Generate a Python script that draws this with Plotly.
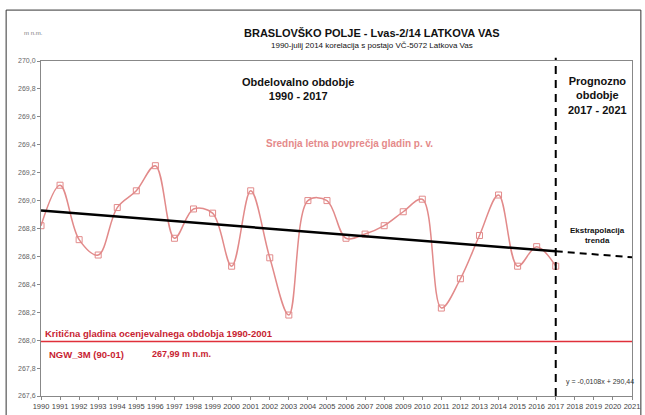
import numpy as np
import plotly.graph_objects as go

years = list(range(1990, 2018))
levels = [268.82, 269.11, 268.72, 268.61, 268.95, 269.07, 269.25, 268.73, 268.94, 268.91,
          268.53, 269.07, 268.59, 268.18, 269.00, 269.00, 268.73, 268.76, 268.82, 268.92,
          269.01, 268.23, 268.44, 268.75, 269.04, 268.53, 268.67, 268.53]
critical_level = 267.99
x_ticks = list(range(1990, 2022))
y_ticks = [267.6 + 0.2 * i for i in range(13)]
y_labels = [f"{v:.1f}".replace(".", ",") for v in y_ticks]
forecast_start = 2017
forecast_end = 2021

slope, intercept = np.polyfit(years, levels, 1)
trend_x = [1990, forecast_start]
trend_y = [slope * x + intercept for x in trend_x]
ext_x = [forecast_start, forecast_end]
ext_y = [slope * x + intercept for x in ext_x]

series_color = "#E28A8A"
red = "#E0303A"
red_text = "#C81E32"
font = "Liberation Sans, Arial, sans-serif"

fig = go.Figure()
fig.add_trace(go.Scatter(x=years, y=levels, mode="lines+markers", line_shape="spline",
                         line=dict(color=series_color, width=1.5, smoothing=1),
                         marker=dict(symbol="square-open", size=6, color=series_color, line=dict(width=1)),
                         hoverinfo="skip"))
fig.add_trace(go.Scatter(x=trend_x, y=trend_y, mode="lines",
                         line=dict(color="black", width=2.5), hoverinfo="skip"))
fig.add_trace(go.Scatter(x=ext_x, y=ext_y, mode="lines",
                         line=dict(color="black", width=2, dash="7px,5px"), hoverinfo="skip"))
fig.add_trace(go.Scatter(x=[1990, forecast_end], y=[critical_level, critical_level], mode="lines",
                         line=dict(color=red, width=1.5), hoverinfo="skip"))

fig.add_shape(type="line", xref="x", yref="paper", x0=forecast_start, x1=forecast_start, y0=0, y1=1.01,
              line=dict(color="black", width=2, dash="8px,6px"))
# outer frame
fig.add_shape(type="rect", xref="paper", yref="paper", x0=-0.059, x1=1.015, y0=-0.06, y1=1.152,
              line=dict(color="#333333", width=1))

ann = [
    dict(text="m n.m.", x=-0.032, y=1.084, xref="paper", yref="paper", yanchor="middle",
         font=dict(size=6, color="#777777")),
    dict(text="<b>BRASLOVŠKO POLJE - Lvas-2/14 LATKOVA VAS</b>", x=0.56, y=1.084, xref="paper", yref="paper",
         yanchor="middle", font=dict(size=11, color="#111111")),
    dict(text="1990-julij 2014 korelacija s postajo VČ-5072 Latkova Vas", x=0.56, y=1.045, xref="paper",
         yref="paper", yanchor="middle", font=dict(size=8, color="#111111")),
    dict(text="<b>Obdelovalno obdobje<br>1990 - 2017</b>", x=2003.5, y=269.8, font=dict(size=11, color="#111111")),
    dict(text="<b>Prognozno<br>obdobje<br>2017 - 2021</b>", x=2019.2, y=269.75, font=dict(size=11, color="#111111")),
    dict(text="<b>Srednja letna povprečja gladin p. v.</b>", x=2006.2, y=269.41, font=dict(size=10, color="#E58A8A")),
    dict(text="<b>Ekstrapolacija<br>trenda</b>", x=2019.2, y=268.75, font=dict(size=8, color="#111111")),
    dict(text="y = -0,0108x + 290,44", x=2019.3, y=267.7, font=dict(size=7, color="#333333")),
    dict(text="<b>Kritična gladina ocenjevalnega obdobja 1990-2001</b>", x=1990.1, y=268.045, xanchor="left",
         font=dict(size=9.5, color=red_text)),
    dict(text="<b>NGW_3M (90-01)</b>", x=1990.3, y=267.9, xanchor="left", font=dict(size=9.5, color=red_text)),
    dict(text="<b>267,99 m n.m.</b>", x=1995.7, y=267.9, xanchor="left", font=dict(size=9, color=red_text)),
]
for a in ann:
    a.setdefault("showarrow", False)
    a["font"]["family"] = font
    fig.add_annotation(**a)

fig.update_layout(
    width=645, height=415, showlegend=False,
    margin=dict(l=41, r=13, t=61, b=19),
    paper_bgcolor="white", plot_bgcolor="white",
    font=dict(family=font, color="#555555"),
)
fig.update_xaxes(range=[1990, forecast_end], tickmode="array", tickvals=x_ticks, automargin=False,
                 ticktext=[str(t) for t in x_ticks], tickangle=0, tickfont=dict(size=7.5, color="#444444"),
                 showgrid=False, zeroline=False, showline=True, linecolor="#888888", linewidth=1, mirror=True,
                 ticks="outside", ticklen=3, tickcolor="#888888")
fig.update_yaxes(range=[267.6, 270.0], tickmode="array", tickvals=y_ticks, ticktext=y_labels, automargin=False,
                 tickfont=dict(size=7, color="#666666"),
                 showgrid=False, zeroline=False, showline=True, linecolor="#888888", linewidth=1, mirror=True,
                 ticks="outside", ticklen=3, tickcolor="#888888")

fig.write_html("out.html", config={"displayModeBar": False},
               post_script="document.body.style.margin='0';document.body.style.overflow='hidden';")
